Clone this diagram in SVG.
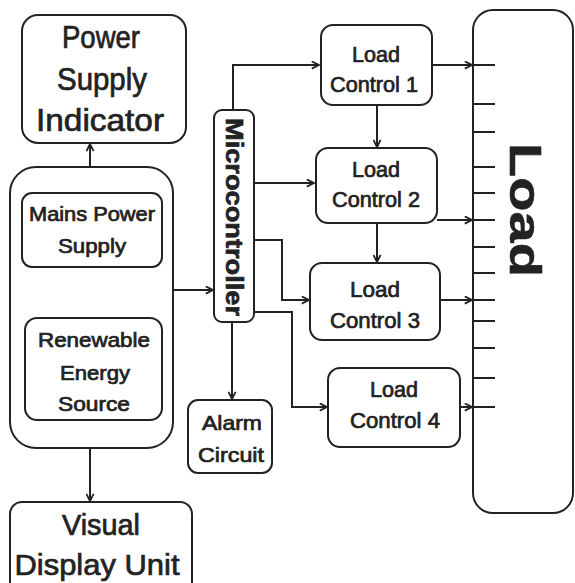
<svg xmlns="http://www.w3.org/2000/svg" width="575" height="583" viewBox="0 0 575 583">
<style>
.box{fill:#fff;stroke:#222;stroke-width:2}
.t{font-family:"Liberation Sans",Arial,sans-serif;fill:#222;text-anchor:middle;stroke:#222;stroke-width:0.7}
.c{fill:none;stroke:#222;stroke-width:2}
.tick{stroke:#222;stroke-width:2}
</style>
<defs>
<marker id="ah" viewBox="0 0 10 10" refX="9" refY="5" markerWidth="9" markerHeight="9" markerUnits="userSpaceOnUse" orient="auto">
<path d="M1,1 L9,5 L1,9" fill="none" stroke="#222" stroke-width="2"/>
</marker>
</defs>
<rect width="575" height="583" fill="#fff"/>
<g id="connectors">
<path class="c" d="M90,167 L90,144" marker-end="url(#ah)"/>
<path class="c" d="M90,448 L90,501" marker-end="url(#ah)"/>
<path class="c" d="M173,290 L213,290" marker-end="url(#ah)"/>
<path class="c" d="M233,110 L233,65 L319,65" marker-end="url(#ah)"/>
<path class="c" d="M254,183 L314,183" marker-end="url(#ah)"/>
<path class="c" d="M254,240 L282,240 L282,300 L309,300" marker-end="url(#ah)"/>
<path class="c" d="M254,312 L292,312 L292,407 L327,407" marker-end="url(#ah)"/>
<path class="c" d="M232,322 L232,399" marker-end="url(#ah)"/>
<path class="c" d="M377,105 L377,147" marker-end="url(#ah)"/>
<path class="c" d="M377,223 L377,262" marker-end="url(#ah)"/>
<path class="c" d="M432,65 L472,65" marker-end="url(#ah)"/>
<path class="c" d="M437,220 L472,220" marker-end="url(#ah)"/>
<path class="c" d="M440,300 L472,300" marker-end="url(#ah)"/>
<path class="c" d="M460,407 L472,407" marker-end="url(#ah)"/>
</g>
<g id="psi">
<rect class="box" x="22" y="15" width="164" height="128" rx="16"/>
<text class="t" font-size="32" x="101" y="48" textLength="78" lengthAdjust="spacingAndGlyphs">Power</text>
<text class="t" font-size="32" x="102" y="90" textLength="90" lengthAdjust="spacingAndGlyphs">Supply</text>
<text class="t" font-size="32" x="100" y="131" textLength="128" lengthAdjust="spacingAndGlyphs">Indicator</text>
</g>
<g id="sources">
<rect class="box" x="10" y="167" width="163" height="281" rx="26"/>
</g>
<g id="mains">
<rect class="box" x="22" y="193" width="140" height="74" rx="10"/>
<text class="t" font-size="20" x="92" y="221" textLength="126" lengthAdjust="spacingAndGlyphs">Mains Power</text>
<text class="t" font-size="20" x="92" y="253" textLength="68" lengthAdjust="spacingAndGlyphs">Supply</text>
</g>
<g id="renewable">
<rect class="box" x="25" y="318" width="137" height="102" rx="12"/>
<text class="t" font-size="20" x="94" y="347" textLength="112" lengthAdjust="spacingAndGlyphs">Renewable</text>
<text class="t" font-size="20" x="95" y="380" textLength="70" lengthAdjust="spacingAndGlyphs">Energy</text>
<text class="t" font-size="20" x="94" y="411" textLength="72" lengthAdjust="spacingAndGlyphs">Source</text>
</g>
<g id="micro">
<rect class="box" x="214" y="110" width="40" height="212" rx="8"/>
<text class="t" font-size="24" font-weight="bold" transform="translate(226,217) rotate(90)" x="0" y="0" textLength="198" lengthAdjust="spacingAndGlyphs">Microcontroller</text>
</g>
<g id="lc1">
<rect class="box" x="321" y="25" width="111" height="80" rx="12"/>
<text class="t" font-size="22" x="376" y="62" textLength="48" lengthAdjust="spacingAndGlyphs">Load</text>
<text class="t" font-size="22" x="374" y="92" textLength="88" lengthAdjust="spacingAndGlyphs">Control 1</text>
</g>
<g id="lc2">
<rect class="box" x="316" y="148" width="121" height="75" rx="12"/>
<text class="t" font-size="22" x="376" y="177" textLength="48" lengthAdjust="spacingAndGlyphs">Load</text>
<text class="t" font-size="22" x="376" y="207" textLength="88" lengthAdjust="spacingAndGlyphs">Control 2</text>
</g>
<g id="lc3">
<rect class="box" x="310" y="263" width="130" height="77" rx="12"/>
<text class="t" font-size="22" x="375" y="297" textLength="50" lengthAdjust="spacingAndGlyphs">Load</text>
<text class="t" font-size="22" x="375" y="328" textLength="90" lengthAdjust="spacingAndGlyphs">Control 3</text>
</g>
<g id="lc4">
<rect class="box" x="328" y="368" width="132" height="79" rx="12"/>
<text class="t" font-size="22" x="394" y="397" textLength="48" lengthAdjust="spacingAndGlyphs">Load</text>
<text class="t" font-size="22" x="395" y="428" textLength="90" lengthAdjust="spacingAndGlyphs">Control 4</text>
</g>
<g id="alarm">
<rect class="box" x="188" y="400" width="84" height="73" rx="10"/>
<text class="t" font-size="21" x="232" y="430" textLength="60" lengthAdjust="spacingAndGlyphs">Alarm</text>
<text class="t" font-size="21" x="231" y="462" textLength="66" lengthAdjust="spacingAndGlyphs">Circuit</text>
</g>
<g id="visual">
<rect class="box" x="10" y="502" width="182" height="100" rx="12"/>
<text class="t" font-size="30" x="101" y="535" textLength="78" lengthAdjust="spacingAndGlyphs">Visual</text>
<text class="t" font-size="30" x="97" y="575" textLength="165" lengthAdjust="spacingAndGlyphs">Display Unit</text>
</g>
<g id="load">
<rect class="box" x="473" y="10" width="100" height="503" rx="20"/>
<g class="tick">
<line x1="473" y1="65" x2="495" y2="65"/>
<line x1="473" y1="104" x2="495" y2="104"/>
<line x1="473" y1="132" x2="495" y2="132"/>
<line x1="473" y1="167" x2="495" y2="167"/>
<line x1="473" y1="193" x2="495" y2="193"/>
<line x1="473" y1="220" x2="495" y2="220"/>
<line x1="473" y1="247" x2="495" y2="247"/>
<line x1="473" y1="273" x2="495" y2="273"/>
<line x1="473" y1="300" x2="495" y2="300"/>
<line x1="473" y1="321" x2="495" y2="321"/>
<line x1="473" y1="348" x2="495" y2="348"/>
<line x1="473" y1="378" x2="495" y2="378"/>
<line x1="473" y1="407" x2="495" y2="407"/>
</g>
<text class="t" font-size="56" font-weight="bold" transform="translate(510,210) scale(0.8,1) rotate(90)" x="0" y="0">Load</text>
</g>
</svg>
